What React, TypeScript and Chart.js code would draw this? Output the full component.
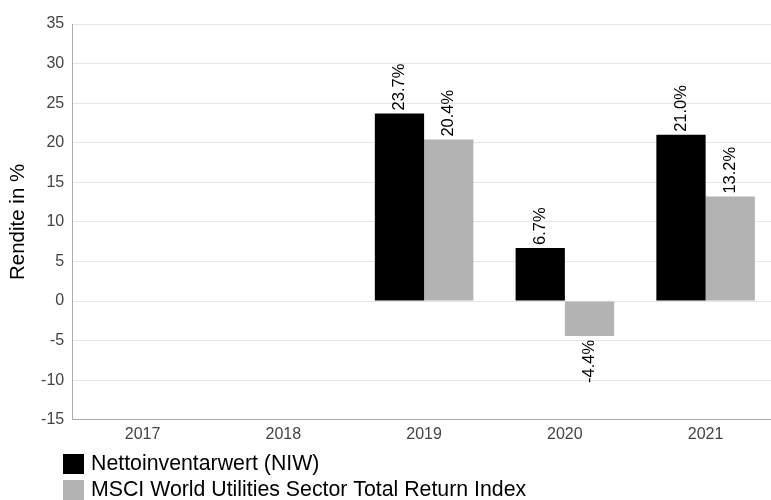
import React, { useEffect, useRef } from "react";
import { Chart, registerables } from "chart.js";

Chart.register(...registerables);

const categories: string[] = ["2017", "2018", "2019", "2020", "2021"];
const niwValues: (number | null)[] = [null, null, 23.7, 6.7, 21.0];
const msciValues: (number | null)[] = [null, null, 20.4, -4.4, 13.2];
const seriesNames: string[] = [
  "Nettoinventarwert (NIW)",
  "MSCI World Utilities Sector Total Return Index",
];
const seriesColors: string[] = ["#000000", "#b3b3b3"];
const yTickMin = -15;
const yTickMax = 35;
const yTickStep = 5;

const FONT = "'Liberation Sans', Arial, Helvetica, sans-serif";

const valueLabelPlugin = {
  id: "valueLabels",
  afterDatasetsDraw(chart: any) {
    const ctx = chart.ctx;
    ctx.save();
    ctx.font = `16.5px ${FONT}`;
    ctx.fillStyle = "#000";
    ctx.textBaseline = "middle";
    chart.data.datasets.forEach((ds: any, di: number) => {
      const meta = chart.getDatasetMeta(di);
      meta.data.forEach((bar: any, i: number) => {
        const v = ds.data[i];
        if (v === null || v === undefined) return;
        const text = `${Number(v).toFixed(1)}%`;
        ctx.save();
        ctx.translate(bar.x, bar.y);
        ctx.rotate(-Math.PI / 2);
        if (v >= 0) {
          ctx.textAlign = "left";
          ctx.fillText(text, 3, 0);
        } else {
          ctx.textAlign = "right";
          ctx.fillText(text, -4, 0);
        }
        ctx.restore();
      });
    });
    ctx.restore();
  },
};

const legendPlugin = {
  id: "customLegend",
  afterDraw(chart: any) {
    const ctx = chart.ctx;
    ctx.save();
    ctx.font = `21.3px ${FONT}`;
    ctx.textBaseline = "middle";
    ctx.textAlign = "left";
    chart.data.datasets.forEach((ds: any, i: number) => {
      const top = 454 + i * 26;
      ctx.fillStyle = ds.backgroundColor;
      ctx.fillRect(63, top, 21, 20);
      ctx.fillStyle = "#000";
      ctx.fillText(ds.label, 91, top + 10);
    });
    ctx.restore();
  },
};

export default function App() {
  const canvasRef = useRef<HTMLCanvasElement | null>(null);

  useEffect(() => {
    if (!canvasRef.current) return;
    const chart = new Chart(canvasRef.current, {
      type: "bar",
      data: {
        labels: categories,
        datasets: [
          {
            label: seriesNames[0],
            data: niwValues,
            backgroundColor: seriesColors[0],
            categoryPercentage: 0.7,
            barPercentage: 1.0,
          },
          {
            label: seriesNames[1],
            data: msciValues,
            backgroundColor: seriesColors[1],
            categoryPercentage: 0.7,
            barPercentage: 1.0,
          },
        ],
      },
      options: {
        animation: false,
        responsive: false,
        devicePixelRatio: 1,
        layout: { padding: { top: 24, right: 1, bottom: 51, left: 0 } },
        plugins: {
          legend: { display: false },
          tooltip: { enabled: false },
        },
        scales: {
          x: {
            grid: { display: false, drawTicks: false },
            border: { display: true, color: "#aaaaaa", width: 1 },
            ticks: {
              color: "#444444",
              font: { family: FONT, size: 16 },
              padding: 5,
            },
          },
          y: {
            min: yTickMin,
            max: yTickMax,
            grid: { color: "#e6e6e6", drawTicks: false },
            border: { display: true, color: "#aaaaaa", width: 1 },
            ticks: {
              stepSize: yTickStep,
              color: "#444444",
              font: { family: FONT, size: 16 },
              padding: 8,
            },
            title: {
              display: true,
              text: "Rendite in %",
              color: "#000000",
              font: { family: FONT, size: 20.5 },
              padding: { top: 6, bottom: 2.5 },
            },
          },
        },
      },
      plugins: [valueLabelPlugin, legendPlugin],
    });
    return () => chart.destroy();
  }, []);

  return (
    <div
      style={{
        position: "fixed",
        left: 0,
        top: 0,
        width: 771,
        height: 500,
        overflow: "hidden",
        background: "#fff",
      }}
    >
      <canvas
        ref={canvasRef}
        width={777}
        height={500}
        style={{ width: 777, height: 500, display: "block" }}
      />
    </div>
  );
}
